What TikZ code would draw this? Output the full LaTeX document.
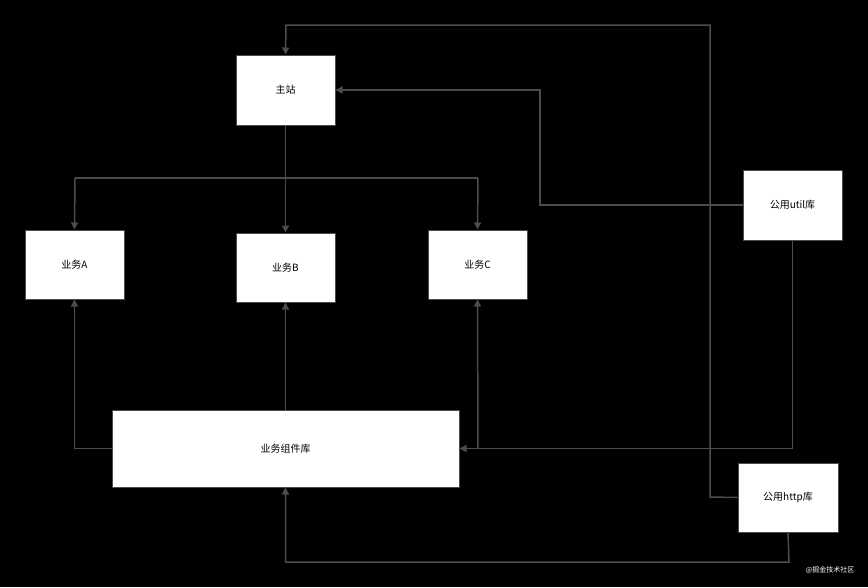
\documentclass[tikz,border=0pt]{standalone}
\usepackage{fontspec}
\setmainfont{Noto Sans CJK SC}
\usetikzlibrary{arrows.meta}
\begin{document}
\begin{tikzpicture}[x=1pt,y=-1pt,
  box/.style={draw=black!70,fill=white,line width=1pt,inner sep=0pt,font=\fontsize{10}{12}\selectfont},
  conn/.style={draw=black!70!white,line width=1.5pt,-{Triangle[length=7pt,width=7pt]}},
  plain/.style={draw=black!70!white,line width=1.5pt}]
\fill[black] (0,0) rectangle (868,587);
\useasboundingbox (0,0) rectangle (868,587);
\node[box,minimum width=99pt,minimum height=70pt] (zz) at (285.5,90) {主站};
\node[box,minimum width=99pt,minimum height=69pt] (a) at (74.5,264.5) {业务A};
\node[box,minimum width=99pt,minimum height=69pt] (b) at (285.5,267.5) {业务B};
\node[box,minimum width=99pt,minimum height=69pt] (c) at (477.5,264.5) {业务C};
\node[box,minimum width=99pt,minimum height=70pt] (u) at (792.5,205) {公用util库};
\node[box,minimum width=347pt,minimum height=77pt] (k) at (285.5,448.5) {业务组件库};
\node[box,minimum width=100pt,minimum height=69pt] (h) at (788,497.5) {公用http库};
\coordinate (br) at (286,178);
\draw[conn] (zz.south) -- (b.north);
\draw[plain] (75,178) -- (478,178);
\draw[conn] (75,178) -- (a.north);
\draw[conn] (478,178) -- (c.north);
\draw[conn] (k.west) -| (a.south);
\draw[conn] (k.north) -- (b.south);
\draw[conn] (u.south) |- (k.east);
\draw[conn] (478,449) -- (c.south);
\draw[conn] (u.west) -- (540,205) |- (zz.east);
\draw[conn] (h.west) -- (710,497) |- (286,25) -- (zz.north);
\draw[conn] (h.south) -- (789,562) -| (k.south);
\node[text=white,font=\fontsize{7}{8}\selectfont,anchor=east] (wm) at (858,570) {@掘金技术社区};
\end{tikzpicture}
\end{document}
